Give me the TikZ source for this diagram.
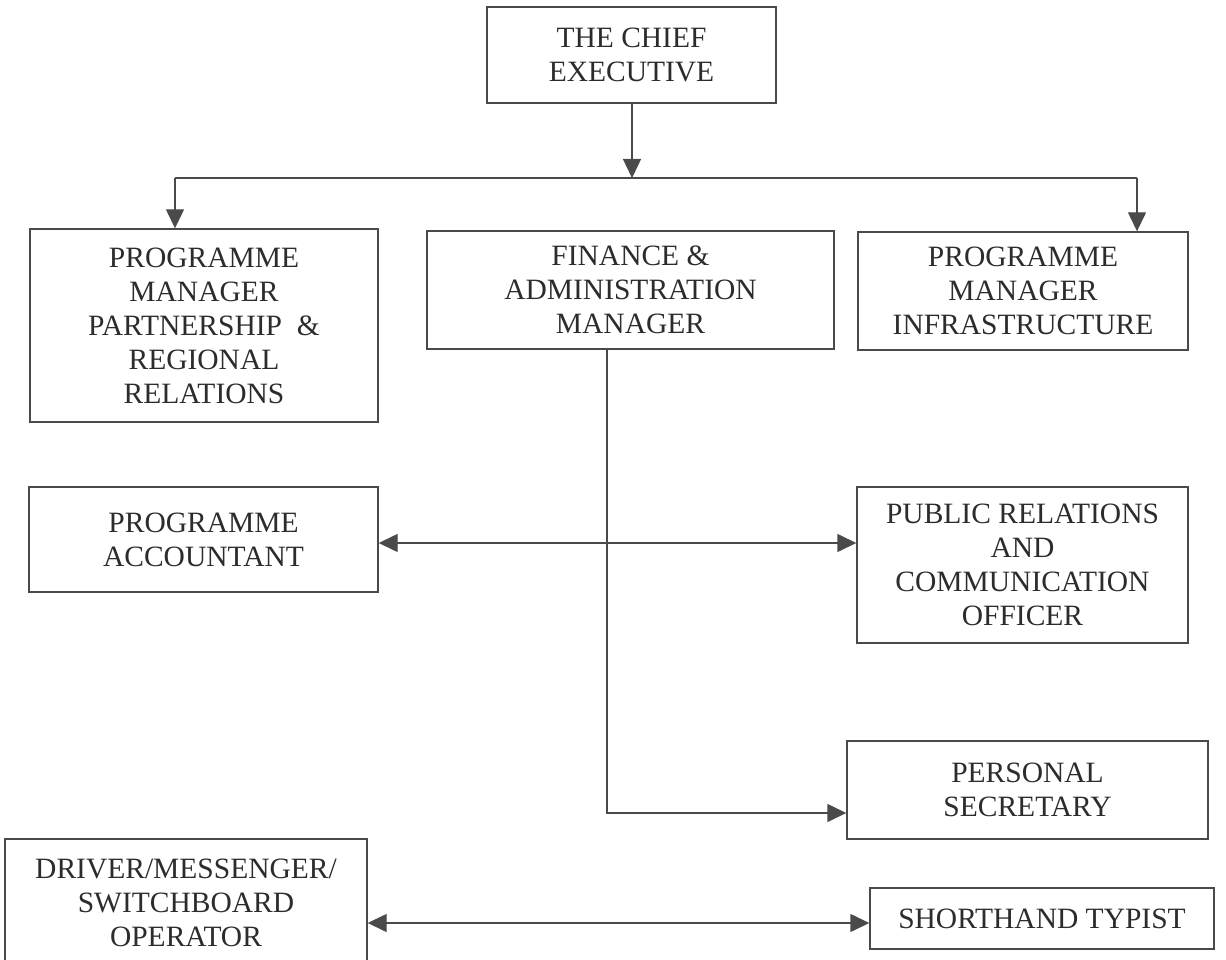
\documentclass[tikz,border=0pt]{standalone}
\usepackage{fontspec}
\setmainfont{Liberation Serif}
\usetikzlibrary{arrows.meta}
\definecolor{linegray}{HTML}{4A4A4A}
\definecolor{textgray}{HTML}{2C2C2C}
\begin{document}
\begin{tikzpicture}[x=1pt,y=-1pt,
  box/.style={draw=linegray, line width=1.4pt, align=center, inner sep=0pt,
    font=\fontsize{29.5}{34}\selectfont, text=textgray},
  conn/.style={draw=linegray, line width=1.4pt},
  tipend/.style={-{Triangle[length=19pt,width=18pt]}},
  tipboth/.style={{Triangle[length=19pt,width=18pt]}-{Triangle[length=19pt,width=18pt]}}
]
\useasboundingbox (0,0) rectangle (1226,960);
\clip (0,0) rectangle (1226,960);
\fill[white] (0,0) rectangle (1226,960);

\node[box, minimum width=289pt, minimum height=96pt] (chief) at (631.5,55) {THE CHIEF\\EXECUTIVE};
\node[box, minimum width=348pt, minimum height=193pt] (pmp) at (204,325.5) {PROGRAMME\\MANAGER\\PARTNERSHIP\ \ \&\\REGIONAL\\RELATIONS};
\node[box, minimum width=407pt, minimum height=118pt] (fin) at (630.5,290) {FINANCE \&\\ADMINISTRATION\\MANAGER};
\node[box, minimum width=330pt, minimum height=118pt] (pmi) at (1023,291) {PROGRAMME\\MANAGER\\INFRASTRUCTURE};
\node[box, minimum width=349pt, minimum height=105pt] (acc) at (203.5,539.5) {PROGRAMME\\ACCOUNTANT};
\node[box, minimum width=331pt, minimum height=156pt] (pr) at (1022.5,565) {PUBLIC RELATIONS\\AND\\COMMUNICATION\\OFFICER};
\node[box, minimum width=361pt, minimum height=98pt] (ps) at (1027.5,790) {PERSONAL\\SECRETARY};
\node[box, minimum width=362pt, minimum height=128pt] (drv) at (186,903) {DRIVER/MESSENGER/\\SWITCHBOARD\\OPERATOR};
\node[box, minimum width=344pt, minimum height=61pt] (sht) at (1042,918.5) {SHORTHAND TYPIST};

\coordinate (j) at (632,178);
\coordinate (jl) at (175,178);
\coordinate (jr) at (1137,178);
\coordinate (fc) at (607,813);
\coordinate (m1) at (600,543);
\coordinate (m2) at (600,923);

\draw[conn,tipend] (chief.south -| j) -- (j);
\draw[conn] (jl) -- (jr);
\draw[conn,tipend] (jl) -- (jl |- pmp.north);
\draw[conn,tipend] (jr) -- (jr |- pmi.north);
\draw[conn,tipend] (fin.south -| fc) -- (fc) -- (fc -| ps.west);
\draw[conn,tipboth] (acc.east |- m1) -- (pr.west |- m1);
\draw[conn,tipboth] (drv.east |- m2) -- (sht.west |- m2);
\end{tikzpicture}
\end{document}
